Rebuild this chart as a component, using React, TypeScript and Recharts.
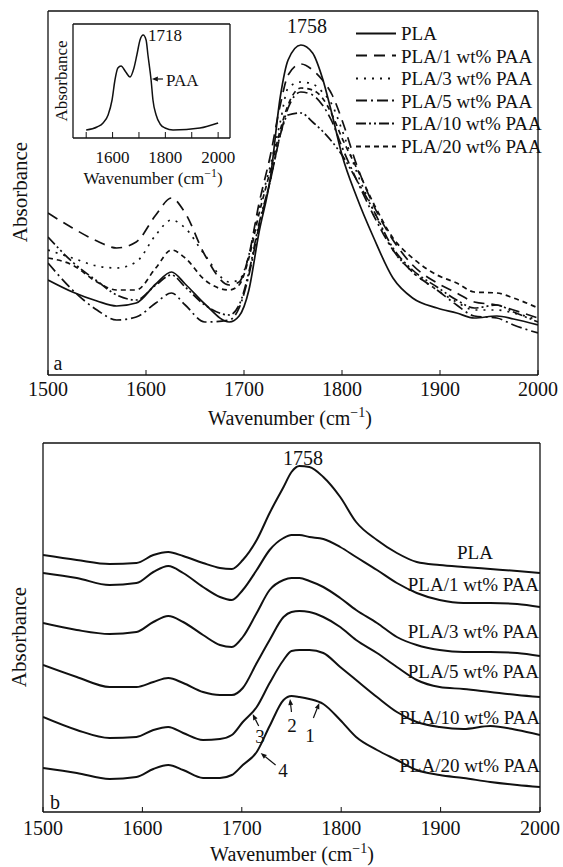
import React from 'react';
import { LineChart, Line, XAxis, YAxis, ReferenceLine } from 'recharts';

const FONT = '"Liberation Serif", "Times New Roman", Times, serif';

// ---- panel a: overlaid spectra (absorbance, arbitrary units) ----
const wnA = [1500, 1525, 1550, 1570, 1590, 1610, 1626, 1640, 1660, 1685, 1695, 1705, 1715, 1727, 1737, 1745, 1758, 1770, 1780, 1790, 1800, 1815, 1832, 1852, 1872, 1897, 1917, 1935, 1958, 1975, 2000];
const plaA = [0.95, 0.83, 0.74, 0.69, 0.72, 0.91, 1.03, 0.91, 0.71, 0.53, 0.59, 0.85, 1.41, 1.98, 2.78, 3.15, 3.30, 3.22, 2.97, 2.60, 2.20, 1.78, 1.38, 0.97, 0.77, 0.67, 0.62, 0.57, 0.59, 0.56, 0.50];
const p1A = [1.62, 1.47, 1.34, 1.27, 1.33, 1.60, 1.77, 1.62, 1.20, 0.90, 0.93, 1.20, 1.70, 2.20, 2.70, 3.00, 3.11, 3.05, 2.95, 2.80, 2.55, 2.10, 1.70, 1.35, 1.10, 0.92, 0.82, 0.73, 0.70, 0.65, 0.57];
const p3A = [1.25, 1.17, 1.09, 1.07, 1.13, 1.40, 1.55, 1.47, 1.20, 0.93, 0.95, 1.20, 1.65, 2.10, 2.53, 2.87, 2.93, 2.91, 2.83, 2.70, 2.45, 2.03, 1.65, 1.25, 1.03, 0.85, 0.73, 0.65, 0.65, 0.62, 0.55];
const p5A = [1.12, 0.85, 0.65, 0.55, 0.58, 0.72, 0.82, 0.70, 0.53, 0.55, 0.67, 1.00, 1.47, 1.95, 2.40, 2.67, 2.83, 2.80, 2.70, 2.53, 2.28, 1.95, 1.60, 1.25, 1.03, 0.85, 0.70, 0.59, 0.57, 0.50, 0.42];
const p10A = [1.38, 1.13, 0.94, 0.80, 0.75, 0.90, 1.00, 0.88, 0.70, 0.60, 0.70, 1.03, 1.50, 1.95, 2.40, 2.60, 2.62, 2.53, 2.44, 2.33, 2.20, 1.95, 1.65, 1.27, 1.05, 0.88, 0.75, 0.67, 0.70, 0.63, 0.53];
const p20A = [1.17, 1.10, 0.93, 0.85, 0.85, 1.07, 1.25, 1.17, 0.95, 0.85, 0.90, 1.17, 1.60, 2.05, 2.45, 2.70, 2.87, 2.85, 2.77, 2.60, 2.37, 2.07, 1.72, 1.37, 1.17, 1.00, 0.92, 0.83, 0.82, 0.77, 0.67];

// inset: neat PAA
const wnPaa = [1500, 1541, 1564, 1583, 1598, 1609, 1620, 1632, 1650, 1666, 1681, 1692, 1704, 1716, 1727, 1734, 1746, 1753, 1765, 1780, 1799, 1829, 1931, 2000];
const paa = [0.08, 0.11, 0.15, 0.23, 0.38, 0.58, 0.70, 0.72, 0.66, 0.61, 0.70, 0.83, 0.98, 1.03, 0.98, 0.83, 0.58, 0.38, 0.23, 0.14, 0.10, 0.08, 0.10, 0.15];
const paaArrow = { from: [1791, 0.59], to: [1749, 0.59] };

// ---- panel b: stacked spectra ----
const wnB = [1500, 1534, 1567, 1594, 1611, 1626, 1641, 1661, 1678, 1690, 1701, 1715, 1728, 1742, 1750, 1758, 1768, 1782, 1799, 1815, 1836, 1856, 1876, 1899, 1923, 1950, 1977, 2000];
const plaB = [2.57, 2.52, 2.48, 2.49, 2.57, 2.60, 2.56, 2.49, 2.44, 2.43, 2.52, 2.72, 2.99, 3.25, 3.40, 3.46, 3.45, 3.35, 3.15, 2.90, 2.72, 2.59, 2.50, 2.47, 2.45, 2.43, 2.41, 2.39];
const p1B = [2.39, 2.34, 2.27, 2.29, 2.40, 2.46, 2.39, 2.25, 2.15, 2.12, 2.22, 2.42, 2.62, 2.74, 2.77, 2.77, 2.75, 2.73, 2.65, 2.55, 2.42, 2.29, 2.19, 2.12, 2.09, 2.09, 2.08, 2.05];
const p3B = [1.89, 1.82, 1.78, 1.80, 1.90, 1.96, 1.90, 1.77, 1.67, 1.65, 1.75, 1.99, 2.22, 2.32, 2.34, 2.34, 2.31, 2.25, 2.14, 2.02, 1.89, 1.75, 1.67, 1.62, 1.60, 1.60, 1.59, 1.56];
const p5B = [1.47, 1.35, 1.25, 1.25, 1.30, 1.34, 1.29, 1.20, 1.17, 1.17, 1.24, 1.49, 1.72, 1.95, 2.00, 2.01, 2.00, 1.95, 1.85, 1.72, 1.59, 1.45, 1.32, 1.25, 1.23, 1.20, 1.17, 1.15];
const p10B = [0.95, 0.82, 0.74, 0.75, 0.82, 0.85, 0.79, 0.72, 0.73, 0.77, 0.90, 1.05, 1.29, 1.52, 1.61, 1.62, 1.62, 1.59, 1.45, 1.32, 1.15, 1.00, 0.90, 0.85, 0.83, 0.86, 0.82, 0.77];
const p20B = [0.44, 0.39, 0.33, 0.35, 0.43, 0.47, 0.42, 0.34, 0.34, 0.37, 0.47, 0.60, 0.86, 1.12, 1.16, 1.15, 1.13, 1.08, 0.92, 0.75, 0.62, 0.52, 0.42, 0.37, 0.34, 0.30, 0.27, 0.25];
const bandArrows = [
  { id: '1', from: [1772, 0.94], to: [1778, 1.09] },
  { id: '2', from: [1750, 1.0], to: [1748.5, 1.13] },
  { id: '3', from: [1717, 0.86], to: [1711, 0.98] },
  { id: '4', from: [1734, 0.47], to: [1719, 0.59] },
];

const names = ['PLA', 'PLA/1 wt% PAA', 'PLA/3 wt% PAA', 'PLA/5 wt% PAA', 'PLA/10 wt% PAA', 'PLA/20 wt% PAA'];
const keys = ['pla', 'p1', 'p3', 'p5', 'p10', 'p20'];
const dashes = [undefined, '11 7', '2 6', '11 4 2 4', '10 3 2 3 2 3', '5 4'];
const wnTicks = [1500, 1600, 1700, 1800, 1900, 2000];

const rowsA = wnA.map((wn, i) => ({ wn, pla: plaA[i], p1: p1A[i], p3: p3A[i], p5: p5A[i], p10: p10A[i], p20: p20A[i] }));
const rowsB = wnB.map((wn, i) => ({ wn, pla: plaB[i], p1: p1B[i], p3: p3B[i], p5: p5B[i], p10: p10B[i], p20: p20B[i] }));
const rowsPaa = wnPaa.map((wn, i) => ({ wn, paa: paa[i] }));

const frame = { stroke: '#111', strokeWidth: 1.3 };

function Arrow(p: any) {
  const { x1, y1, x2, y2 } = p;
  const a = Math.atan2(y2 - y1, x2 - x1);
  const L = 6, W = 2.4;
  const bx = x2 - L * Math.cos(a), by = y2 - L * Math.sin(a);
  const pts = `${x2},${y2} ${bx - W * Math.sin(a)},${by + W * Math.cos(a)} ${bx + W * Math.sin(a)},${by - W * Math.cos(a)}`;
  return (
    <g>
      <line x1={x1} y1={y1} x2={bx} y2={by} stroke="#111" strokeWidth={1.2} />
      <polygon points={pts} fill="#111" />
    </g>
  );
}

function Txt({ x, y, size = 20, anchor = 'middle', rot = false, children }: any) {
  const tx = anchor === 'middle' ? '-50%' : anchor === 'end' ? '-100%' : '0';
  return (
    <div
      style={{
        position: 'absolute', left: x, top: y, fontFamily: FONT, fontSize: size,
        lineHeight: 1, whiteSpace: 'nowrap', color: '#111',
        transform: `translate(${tx}, -50%)${rot ? ' rotate(-90deg)' : ''}`,
      }}
    >
      {children}
    </div>
  );
}

const WnTitle = () => (
  <>Wavenumber (cm<span style={{ fontSize: '0.7em', position: 'relative', top: '-0.55em' }}>−1</span>)</>
);

// axes of size 1 px: Recharts skips axes whose box is 0 wide/high
function frameAxes(dx: number[], dy: number[]) {
  return [
    <XAxis key="xt" xAxisId="top" orientation="top" type="number" dataKey="wn" domain={dx} tick={false} tickLine={false} height={1} axisLine={frame} allowDataOverflow />,
    <YAxis key="yl" type="number" domain={dy} tick={false} tickLine={false} width={1} axisLine={frame} allowDataOverflow />,
    <YAxis key="yr" yAxisId="right" orientation="right" type="number" domain={dy} tick={false} tickLine={false} width={1} axisLine={frame} allowDataOverflow />,
  ];
}

export default function App() {
  const tickStyle = { fontSize: 20, fill: '#111', fontFamily: FONT };
  return (
    <div style={{ position: 'absolute', left: 0, top: 0, width: 563, height: 867, background: '#fff', fontFamily: FONT }}>
      {/* panel a */}
      <div style={{ position: 'absolute', left: 0, top: 0 }}>
        <LineChart width={563} height={430} data={rowsA} margin={{ top: 10, right: 24, bottom: 54, left: 47 }}>
          <XAxis dataKey="wn" type="number" domain={[1500, 2000]} ticks={wnTicks} interval={0} tickSize={-5} tickMargin={12}
            height={1} axisLine={frame} tickLine={{ stroke: '#111' }} tick={tickStyle} allowDataOverflow />
          {frameAxes([1500, 2000], [0, 3.64])}
          {keys.map((k, i) => (
            <Line key={k} dataKey={k} name={names[i]} type="monotone" stroke="#111" strokeWidth={1.7}
              strokeDasharray={dashes[i]} dot={false} activeDot={false} isAnimationActive={false} />
          ))}
        </LineChart>
      </div>

      {/* inset: PAA */}
      <div style={{ position: 'absolute', left: 0, top: 0 }}>
        <LineChart width={260} height={200} data={rowsPaa} margin={{ top: 23, right: 29, bottom: 61, left: 72 }}>
          <XAxis dataKey="wn" type="number" domain={[1450, 2045]} ticks={wnTicks} interval={0} tickSize={-6} tickMargin={19}
            tickFormatter={(v: number) => (v % 200 === 0 ? String(v) : '')}
            height={1} axisLine={frame} tickLine={{ stroke: '#111' }} tick={{ ...tickStyle, fontSize: 17 }} allowDataOverflow />
          {frameAxes([1450, 2045], [0, 1.14])}
          <Line dataKey="paa" type="monotone" stroke="#111" strokeWidth={1.5} dot={false} activeDot={false} isAnimationActive={false} />
          <ReferenceLine segment={[{ x: paaArrow.from[0], y: paaArrow.from[1] }, { x: paaArrow.to[0], y: paaArrow.to[1] }]} shape={Arrow} />
        </LineChart>
      </div>

      <Txt x={287} y={26} anchor="start">1758</Txt>
      <Txt x={148} y={35} size={17} anchor="start">1718</Txt>
      <Txt x={166} y={80} size={17} anchor="start">PAA</Txt>
      <Txt x={61} y={81} size={17} rot>Absorbance</Txt>
      <Txt x={153} y={178} size={17}><WnTitle /></Txt>
      <Txt x={58} y={363}>a</Txt>
      <Txt x={20} y={192} size={21} rot>Absorbance</Txt>
      <Txt x={290} y={418}><WnTitle /></Txt>

      {/* legend a */}
      {names.map((n, i) => (
        <div key={n} style={{ position: 'absolute', left: 356, top: 33 + i * 22.6, transform: 'translateY(-50%)', display: 'flex', alignItems: 'center' }}>
          <svg width={40} height={6}>
            <line x1={0} y1={3} x2={40} y2={3} stroke="#111" strokeWidth={1.8} strokeDasharray={dashes[i]} />
          </svg>
          <span style={{ marginLeft: 5, fontFamily: FONT, fontSize: 19, lineHeight: 1, whiteSpace: 'nowrap', color: '#111' }}>{n}</span>
        </div>
      ))}

      {/* panel b */}
      <div style={{ position: 'absolute', left: 0, top: 430 }}>
        <LineChart width={563} height={437} data={rowsB} margin={{ top: 12, right: 22, bottom: 54, left: 42 }}>
          <XAxis dataKey="wn" type="number" domain={[1500, 2000]} ticks={wnTicks} interval={0} tickSize={-5} tickMargin={14}
            height={1} axisLine={frame} tickLine={{ stroke: '#111' }} tick={tickStyle} allowDataOverflow />
          {frameAxes([1500, 2000], [0, 3.69])}
          {keys.map((k, i) => (
            <Line key={k} dataKey={k} name={names[i]} type="monotone" stroke="#111" strokeWidth={2}
              dot={false} activeDot={false} isAnimationActive={false} />
          ))}
          {bandArrows.map(a => (
            <ReferenceLine key={a.id} segment={[{ x: a.from[0], y: a.from[1] }, { x: a.to[0], y: a.to[1] }]} shape={Arrow} />
          ))}
        </LineChart>
      </div>

      <Txt x={283} y={458} anchor="start">1758</Txt>
      <Txt x={475} y={552} size={19}>{names[0]}</Txt>
      <Txt x={539} y={584} size={19} anchor="end">{names[1]}</Txt>
      <Txt x={539} y={631} size={19} anchor="end">{names[2]}</Txt>
      <Txt x={539} y={671} size={19} anchor="end">{names[3]}</Txt>
      <Txt x={540} y={717} size={19} anchor="end">{names[4]}</Txt>
      <Txt x={540} y={765} size={19} anchor="end">{names[5]}</Txt>
      <Txt x={310} y={735} size={19}>1</Txt>
      <Txt x={292} y={725} size={19}>2</Txt>
      <Txt x={260} y={736} size={19}>3</Txt>
      <Txt x={283} y={770} size={19}>4</Txt>
      <Txt x={55} y={802}>b</Txt>
      <Txt x={19} y={637} size={21} rot>Absorbance</Txt>
      <Txt x={292} y={854}><WnTitle /></Txt>
    </div>
  );
}
